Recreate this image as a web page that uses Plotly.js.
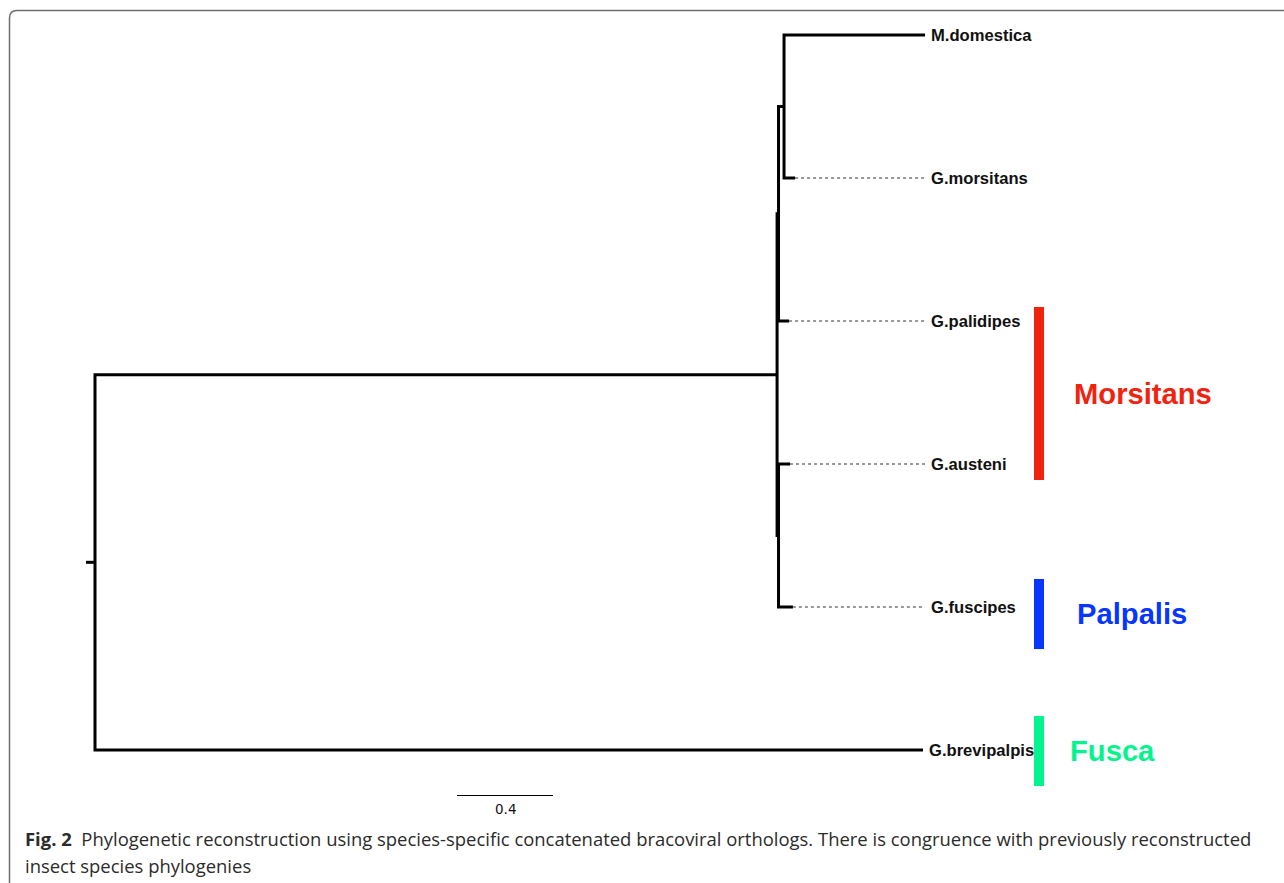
<!DOCTYPE html>
<html>
<head>
<meta charset="utf-8">
<script src="https://cdn.plot.ly/plotly-3.0.1.min.js"></script>
<style>html,body{margin:0;padding:0;background:#fff;}#chart{width:1284px;height:883px;}</style>
</head>
<body>
<div id="chart"></div>
<script>
// ---- Tree data (branch lengths in substitutions/site) ----
const nodeNames = ['root', 'n1', 'n2', 'n3', 'n4',
  'M.domestica', 'G.morsitans', 'G.palidipes', 'G.austeni', 'G.fuscipes', 'G.brevipalpis'];
const parents = [-1, 0, 1, 1, 2, 4, 4, 2, 3, 3, 0];
const branchLengths = [0.0375, 2.842, 0.006, 0.006, 0.023, 0.5875, 0.046, 0.044, 0.048, 0.06, 3.45];
const tipOrder = ['M.domestica', 'G.morsitans', 'G.palidipes', 'G.austeni', 'G.fuscipes', 'G.brevipalpis'];

// ---- Clade groups ----
const groupNames = ['Morsitans', 'Palpalis', 'Fusca'];
const groupColors = ['#f0230f', '#0836ff', '#03f48e'];
const groupSpanStart = [1.902, 3.804, 4.762];   // in tip-row units
const groupSpanEnd = [3.112, 4.294, 5.252];
const groupLabelX = [4.071, 4.083, 4.054];       // in branch-length units

// ---- Scale bar ----
const scaleBarLength = 0.4;
const scaleBarLabel = '0.4';

// ---- Caption ----
const captionBold = 'Fig. 2';
const captionLine1 = 'Phylogenetic reconstruction using species-specific concatenated bracoviral orthologs. There is congruence with previously reconstructed';
const captionLine2 = 'insect species phylogenies';

// ---- Compute node coordinates ----
const n = nodeNames.length;
const children = nodeNames.map(() => []);
parents.forEach((p, i) => { if (p >= 0) children[p].push(i); });
const X = new Array(n), Y = new Array(n);
(function setX(i) {
  X[i] = parents[i] < 0 ? 0 : X[parents[i]] + branchLengths[i];
  children[i].forEach(setX);
})(0);
(function setY(i) {
  if (children[i].length === 0) { Y[i] = tipOrder.indexOf(nodeNames[i]); return Y[i]; }
  const ys = children[i].map(setY);
  Y[i] = (ys[0] + ys[ys.length - 1]) / 2;
  return Y[i];
})(0);

// solid tree path
const tx = [], ty = [];
tx.push(-branchLengths[0], X[0], null); ty.push(Y[0], Y[0], null);
for (let i = 0; i < n; i++) {
  const ch = children[i];
  if (!ch.length) continue;
  const a = ch[0], b = ch[ch.length - 1];
  tx.push(X[a], X[i], X[i], X[b], null);
  ty.push(Y[a], Y[a], Y[b], Y[b], null);
}

// dotted guides to aligned labels
const tips = [];
for (let i = 0; i < n; i++) if (!children[i].length) tips.push(i);
const alignX = Math.max(...tips.map(i => X[i]));
const dx = [], dy = [];
const labelX = {};
tips.forEach(i => {
  if (alignX - X[i] > 0.01) { dx.push(X[i], alignX, null); dy.push(Y[i], Y[i], null); labelX[i] = alignX; }
  else labelX[i] = X[i];
});

// ---- Pixel geometry (style) ----
const W = 1284, H = 883;
const pxPerUnit = 240, rootPx = 95;
const rowPx = 143, firstRowPx = 35;
const xRange = [-rootPx / pxPerUnit, (W - rootPx) / pxPerUnit];
const yRange = [(H - firstRowPx) / rowPx, -firstRowPx / rowPx];
const px = v => v / W, py = v => 1 - v / H;

const annotations = [];
tips.forEach(i => {
  annotations.push({
    x: labelX[i], y: Y[i], xref: 'x', yref: 'y',
    text: '<b>' + nodeNames[i] + '</b>', showarrow: false,
    xanchor: 'left', yanchor: 'middle', xshift: 4,
    font: {family: 'Liberation Sans, Arial, sans-serif', size: 16.6, color: '#111'}
  });
});
const shapes = [];
groupNames.forEach((g, k) => {
  shapes.push({type: 'rect', xref: 'x', yref: 'y',
    x0: (1034 - rootPx) / pxPerUnit, x1: (1044 - rootPx) / pxPerUnit,
    y0: groupSpanStart[k], y1: groupSpanEnd[k],
    fillcolor: groupColors[k], line: {width: 0}});
  annotations.push({
    x: groupLabelX[k], y: (groupSpanStart[k] + groupSpanEnd[k]) / 2, xref: 'x', yref: 'y',
    text: '<b>' + g + '</b>', showarrow: false, xanchor: 'left', yanchor: 'middle',
    font: {family: 'Liberation Sans, Arial, sans-serif', size: 29.2, color: groupColors[k]}
  });
});
// scale bar
const sbX0 = (457 - rootPx) / pxPerUnit;
shapes.push({type: 'line', xref: 'x', yref: 'paper', x0: sbX0, x1: sbX0 + scaleBarLength,
  y0: py(795.5), y1: py(795.5), line: {color: '#000', width: 1}});
annotations.push({x: sbX0 + scaleBarLength / 2, y: py(809), xref: 'x', yref: 'paper',
  text: scaleBarLabel, showarrow: false, xanchor: 'center', yanchor: 'middle',
  font: {family: 'DejaVu Sans, sans-serif', size: 13.5, color: '#111'}});
// frame
shapes.push({type: 'path', xref: 'paper', yref: 'paper', layer: 'below',
  path: `M ${px(9.5)} ${py(H + 2)} L ${px(9.5)} ${py(18)} Q ${px(9.5)} ${py(10.5)} ${px(17)} ${py(10.5)} L ${px(W + 5)} ${py(10.5)}`,
  line: {color: '#6f6f6f', width: 1.5}});
// caption
annotations.push({x: px(23), y: py(838), xref: 'paper', yref: 'paper', xanchor: 'left', yanchor: 'middle',
  showarrow: false, text: '<b>' + captionBold + '</b>  ' + captionLine1,
  font: {family: 'Open Sans, sans-serif', size: 18.45, color: '#2b2b2b'}});
annotations.push({x: px(23), y: py(865), xref: 'paper', yref: 'paper', xanchor: 'left', yanchor: 'middle',
  showarrow: false, text: captionLine2,
  font: {family: 'Open Sans, sans-serif', size: 18.45, color: '#2b2b2b'}});

const traces = [
  {x: dx, y: dy, mode: 'lines', line: {color: '#333', width: 1, dash: 'dot'}, hoverinfo: 'skip'},
  {x: tx, y: ty, mode: 'lines', line: {color: '#000', width: 3}, hoverinfo: 'skip'}
];

Plotly.newPlot('chart', traces, {
  width: W, height: H, margin: {l: 0, r: 0, t: 0, b: 0},
  paper_bgcolor: '#fff', plot_bgcolor: 'rgba(0,0,0,0)', showlegend: false,
  xaxis: {range: xRange, visible: false, fixedrange: true},
  yaxis: {range: yRange, visible: false, fixedrange: true},
  shapes: shapes, annotations: annotations
}, {displayModeBar: false, staticPlot: true});
</script>
</body>
</html>
